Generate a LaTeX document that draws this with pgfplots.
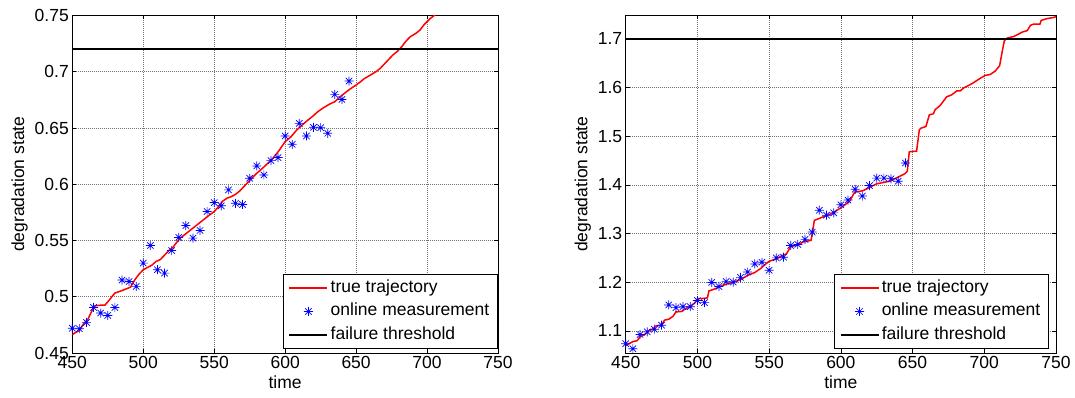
\documentclass[border=0pt]{standalone}
\usepackage{fontspec}
\setmainfont{Liberation Sans}
\usepackage{pgfplots}
\pgfplotsset{compat=1.18}

\pgfdeclareplotmark{mstar}{%
 \pgfpathmoveto{\pgfqpoint{-\pgfplotmarksize}{0pt}}\pgfpathlineto{\pgfqpoint{\pgfplotmarksize}{0pt}}%
 \pgfpathmoveto{\pgfqpoint{0pt}{-\pgfplotmarksize}}\pgfpathlineto{\pgfqpoint{0pt}{\pgfplotmarksize}}%
 \pgfpathmoveto{\pgfqpoint{-.7071\pgfplotmarksize}{-.7071\pgfplotmarksize}}\pgfpathlineto{\pgfqpoint{.7071\pgfplotmarksize}{.7071\pgfplotmarksize}}%
 \pgfpathmoveto{\pgfqpoint{-.7071\pgfplotmarksize}{.7071\pgfplotmarksize}}\pgfpathlineto{\pgfqpoint{.7071\pgfplotmarksize}{-.7071\pgfplotmarksize}}%
 \pgfusepathqstroke}

\definecolor{mblue}{RGB}{0,0,255}
\definecolor{mred}{RGB}{255,0,0}

\pgfplotsset{
  mstyle/.style={
    scale only axis,
    height=337.5pt,
    xmin=450, xmax=750,
    xtick={450,500,550,600,650,700,750},
    grid=major,
    grid style={black!55, line width=0.6pt, dash pattern=on 1pt off 1pt},
    tick align=inside,
    major tick length=4pt,
    axis line style={black, line width=0.9pt},
    tick style={black, line width=0.6pt, solid},
    xlabel={time},
    ylabel={degradation state},
    font=\fontsize{17.5}{21}\selectfont,
    ticklabel style={font=\fontsize{17.5}{21}\selectfont},
    /pgf/number format/assume math mode=true,
    legend cell align=left,
    legend style={
      at={(1,0)}, anchor=south east,
      draw=black, line width=0.8pt, fill=white,
      inner xsep=5.8pt, inner ysep=1.2pt,
      row sep=0pt, column sep=0pt,
      nodes={inner xsep=2.5pt, inner ysep=3.3pt, text height=13pt, text depth=4pt},
      font=\fontsize{17.5}{21}\selectfont,
    },
  },
  redlegend/.style={legend image code/.code={\draw[mred, line width=1.5pt] (0pt,0pt) -- (38pt,0pt);}},
  blacklegend/.style={legend image code/.code={\draw[black, line width=1.5pt] (0pt,0pt) -- (38pt,0pt);}},
  marklegend/.style={legend image code/.code={\path[draw=none, fill=none] (0pt,-1pt) rectangle (38pt,1pt);
      \draw[mblue, line width=0.7pt] (14.5pt,0pt) -- (23.5pt,0pt) (19pt,-4.5pt) -- (19pt,4.5pt)
        (15.8pt,-3.2pt) -- (22.2pt,3.2pt) (15.8pt,3.2pt) -- (22.2pt,-3.2pt);}},
  redline/.style={mred, line width=1.5pt, sharp plot, mark=none, redlegend},
  threshline/.style={black, line width=1.5pt, sharp plot, mark=none, blacklegend},
  meas/.style={only marks, mark=mstar, mark size=4.5pt, mblue, line width=0.7pt, marklegend},
}

\begin{document}
\begin{tikzpicture}
\useasboundingbox (0pt,0pt) rectangle (1075pt,398pt);

% ---------------- left ----------------
\begin{axis}[mstyle,
  at={(72.3pt,45pt)}, anchor=south west,
  width=425.7pt,
  ymin=0.45, ymax=0.75,
  ytick={0.45,0.5,0.55,0.6,0.65,0.7,0.75},
  yticklabels={0.45,0.5,0.55,0.6,0.65,0.7,0.75},
  legend style={xshift=0pt, yshift=4.5pt},
]
\addplot[redline] coordinates {
(450,0.4663)(452,0.4680)(455,0.4700)(458,0.4760)(461,0.4800)(464,0.4880)(466,0.4920)
(470,0.4925)(473,0.4925)(476,0.4970)(480,0.5033)(484,0.5050)(488,0.5070)(491,0.5085)
(494,0.5150)(497,0.5200)(500,0.5240)(503,0.5260)(506,0.5280)(509,0.5314)(512,0.5330)
(515,0.5370)(518,0.5410)(521,0.5441)(524,0.5490)(526,0.5521)(529,0.5550)(532,0.5580)
(535,0.5610)(538,0.5640)(541,0.5670)(544,0.5700)(547,0.5730)(550,0.5757)(553,0.5800)
(556,0.5850)(559,0.5876)(562,0.5890)(565,0.5910)(568,0.5940)(571,0.5980)(574,0.6020)
(577,0.6060)(580,0.6098)(583,0.6130)(586,0.6165)(589,0.6200)(592,0.6240)(596,0.6305)
(600,0.6379)(604,0.6420)(608,0.6480)(612,0.6527)(616,0.6570)(620,0.6610)(623,0.6645)
(627,0.6680)(631,0.6710)(635,0.6734)(639,0.6780)(642,0.6810)(645,0.6840)(650,0.6882)
(653,0.6910)(656,0.6941)(660,0.6970)(664,0.7000)(667,0.7030)(670,0.7070)(673,0.7110)
(676,0.7150)(679,0.7180)(682,0.7220)(685,0.7270)(688,0.7310)(692,0.7340)(695,0.7370)
(698,0.7420)(702,0.7470)(706,0.7510)
};
\addlegendentry{true trajectory}
\addplot[meas] coordinates {
(450,0.4720)(455,0.4716)(460,0.4772)(465,0.4905)(470,0.4855)(475,0.4834)(480,0.4905)
(485,0.5148)(490,0.5136)(495,0.5092)(500,0.5299)(505,0.5456)(510,0.5240)(515,0.5210)
(520,0.5411)(525,0.5527)(530,0.5633)(535,0.5521)(540,0.5589)(545,0.5757)(550,0.5837)
(555,0.5808)(560,0.5950)(565,0.5831)(570,0.5820)(575,0.6053)(580,0.6163)(585,0.6083)
(590,0.6210)(595,0.6237)(600,0.6429)(605,0.6355)(610,0.6541)(615,0.6429)(620,0.6506)
(625,0.6503)(630,0.6453)(635,0.6799)(640,0.6754)(645,0.6917)
};
\addlegendentry{online measurement}
\addplot[threshline] coordinates {(450,0.72)(750,0.72)};
\addlegendentry{failure threshold}
\end{axis}

% ---------------- right ----------------
\begin{axis}[mstyle,
  at={(625.7pt,45pt)}, anchor=south west,
  width=430.3pt,
  ymin=1.0546, ymax=1.748,
  ytick={1.1,1.2,1.3,1.4,1.5,1.6,1.7},
  yticklabels={1.1,1.2,1.3,1.4,1.5,1.6,1.7},
  legend style={xshift=-7pt, yshift=4.5pt},
]
\addplot[redline] coordinates {
(450,1.070)(455,1.078)(458,1.080)(460,1.088)(463,1.092)(466,1.100)(469,1.104)(471,1.110)
(475,1.112)(477,1.122)(480,1.124)(483,1.130)(485,1.139)(489,1.140)(492,1.146)(495,1.150)
(498,1.157)(500,1.166)(505,1.167)(507,1.168)(508,1.182)(511,1.185)(515,1.190)(520,1.196)
(525,1.200)(528,1.203)(531,1.207)(535,1.214)(540,1.220)(544,1.228)(547,1.236)(550,1.243)
(555,1.248)(560,1.256)(562,1.258)(565,1.273)(570,1.277)(574,1.283)(579.2,1.286)
(580.4,1.305)(581.5,1.327)(587.4,1.334)(594.4,1.342)(600,1.353)(606,1.366)(609.6,1.385)
(615.4,1.388)(624.8,1.402)(634.1,1.4076)(640,1.416)(644.6,1.4229)(646.3,1.4277)
(647.7,1.468)(652.8,1.4693)(654.7,1.513)(655.8,1.5164)(659.3,1.520)(661.7,1.544)
(664.5,1.546)(665.7,1.5545)(669.2,1.563)(673.8,1.581)(677.3,1.585)(680.8,1.593)
(683.2,1.593)(685.5,1.599)(690.2,1.606)(692.5,1.610)(697.2,1.619)(700.7,1.625)
(704.2,1.627)(707.7,1.634)(710.7,1.645)(712.4,1.6724)(714,1.6965)(715.9,1.7015)
(720.6,1.705)(724.1,1.710)(726.5,1.714)(730,1.717)(732.2,1.728)(734.6,1.7305)
(738.8,1.7305)(739.7,1.738)(744,1.7418)(748.6,1.744)(751,1.7477)
};
\addlegendentry{true trajectory}
\addplot[meas] coordinates {
(450,1.0738)(455,1.0634)(460,1.0925)(465,1.0980)(470,1.1035)(475,1.1118)(480,1.1533)
(485,1.1478)(490,1.1498)(495,1.1498)(500,1.1623)(505,1.1581)(510,1.1996)(515,1.1913)
(520,1.2017)(525,1.2003)(530,1.2100)(535,1.2210)(540,1.2376)(545,1.2410)(550,1.2245)
(555,1.2500)(560,1.2514)(565,1.2756)(570,1.2777)(575,1.2880)(580,1.3030)(585,1.3480)
(590,1.3378)(595,1.3425)(600,1.3591)(605,1.3688)(610,1.3910)(615,1.3771)(620,1.3986)
(625,1.4139)(630,1.4139)(635,1.4125)(640,1.4076)(645,1.4450)
};
\addlegendentry{online measurement}
\addplot[threshline] coordinates {(450,1.7)(750,1.7)};
\addlegendentry{failure threshold}
\end{axis}
\end{tikzpicture}
\end{document}
